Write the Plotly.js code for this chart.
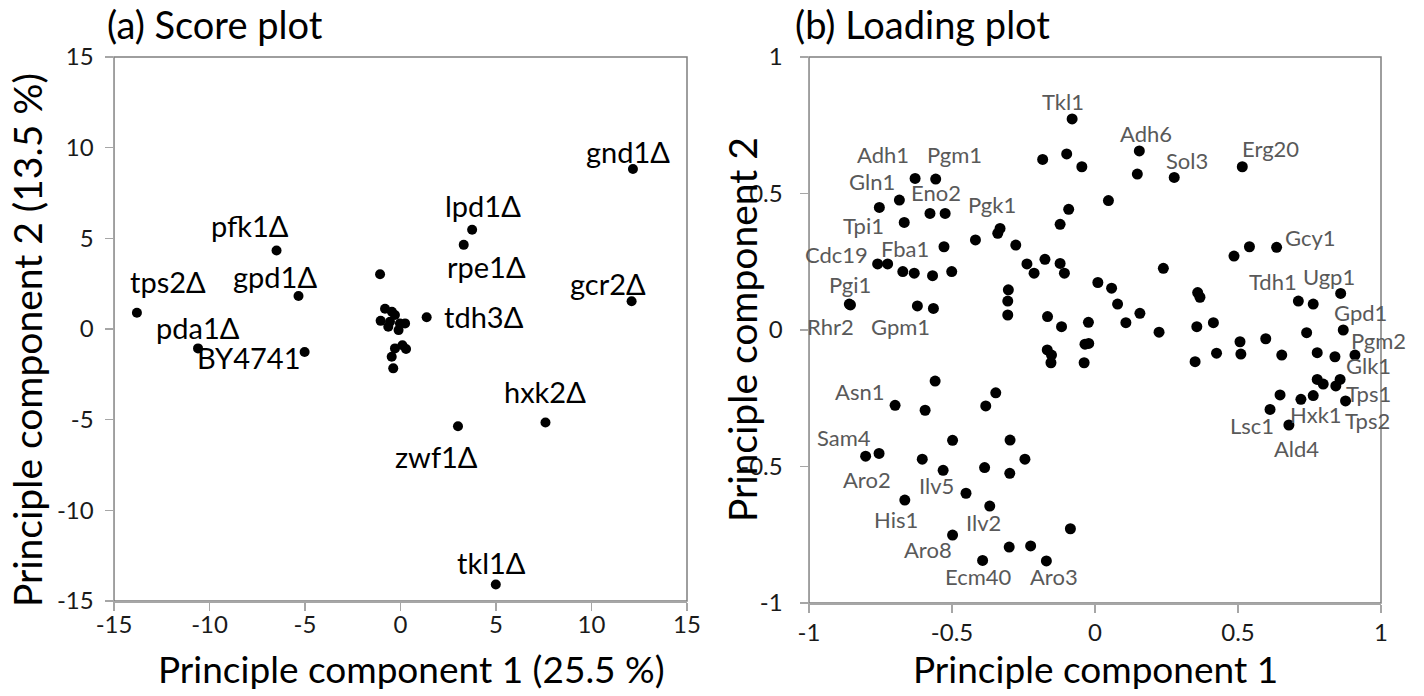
<!DOCTYPE html>
<html>
<head>
<meta charset="utf-8">
<script src="https://cdn.plot.ly/plotly-3.0.1.min.js"></script>
<style>html,body{margin:0;padding:0;background:#fff;}#chart{width:1424px;height:696px;}</style>
</head>
<body>
<div id="chart"></div>
<script>
// ---------- data: (a) score plot ----------
var scoreLabels = ['gnd1Δ','lpd1Δ','rpe1Δ','gcr2Δ','tdh3Δ','hxk2Δ','zwf1Δ','tkl1Δ','pfk1Δ','gpd1Δ','tps2Δ','pda1Δ','BY4741',
  '','','','','','','','','','','','','','',''];
var scorePC1 = [12.17, 3.75, 3.31, 12.10, 1.37, 7.59, 3.01, 4.99, -6.49, -5.34, -13.8, -10.6, -5.02,
  -1.07, -0.81, -0.45, -0.29, -1.04, -0.64, 0.24, -0.55, -0.10, -0.03, 0.29, 0.10, -0.29, -0.46, -0.38];
var scorePC2 = [8.82, 5.47, 4.64, 1.53, 0.65, -5.16, -5.36, -14.09, 4.33, 1.82, 0.90, -1.07, -1.27,
  3.02, 1.12, 0.95, 0.77, 0.45, 0.13, 0.31, 0.40, -0.06, 0.30, -1.10, -0.90, -1.07, -1.53, -2.17];

// ---------- data: (b) loading plot ----------
var loadLabels = ['Tkl1','','','','Adh1','Pgm1','','Gln1','Eno2','','Tpi1','','','','','Pgk1','Fba1','',
  'Cdc19','','','','','','','','','','','','Pgi1','Rhr2','Gpm1','','','','','','','','','','','','','',
  'Adh6','','Sol3','Erg20','','','','Gcy1','','','','','','','','','','',
  'Tdh1','','Ugp1','Gpd1','','','','','','','','','','Pgm2','','','Glk1','Tps1','','Hxk1','','Lsc1','Ald4','Tps2',
  '','Asn1','','','','','','','Sam4','Aro2','','Ilv5','','','','His1','Ilv2','','Aro8','','','Ecm40','Aro3'];
var loadPC1 = [-0.080,-0.183,-0.099,-0.046,-0.629,-0.557,-0.684,-0.754,-0.577,-0.524,-0.667,-0.092,-0.122,-0.418,-0.340,-0.332,-0.528,-0.277,
  -0.760,-0.725,-0.672,-0.632,-0.568,-0.501,-0.238,-0.213,-0.175,-0.122,-0.107,0.010,-0.859,-0.855,-0.621,-0.565,-0.303,-0.305,-0.305,-0.166,-0.117,-0.023,-0.167,-0.152,-0.154,-0.035,-0.022,-0.038,
  0.155,0.148,0.277,0.515,0.047,0.486,0.540,0.635,0.239,0.058,0.079,0.157,0.108,0.359,0.367,0.414,0.356,0.224,
  0.711,0.763,0.859,0.868,0.740,0.597,0.507,0.350,0.425,0.510,0.653,0.777,0.839,0.909,0.777,0.798,0.857,0.842,0.763,0.720,0.647,0.612,0.678,0.876,
  -0.559,-0.699,-0.594,-0.347,-0.382,-0.498,-0.297,-0.245,-0.802,-0.755,-0.604,-0.531,-0.386,-0.298,-0.451,-0.665,-0.368,-0.086,-0.498,-0.300,-0.225,-0.393,-0.170];
var loadPC2 = [0.773,0.625,0.645,0.598,0.555,0.553,0.476,0.449,0.427,0.427,0.394,0.442,0.387,0.330,0.354,0.372,0.305,0.311,
  0.242,0.242,0.214,0.208,0.199,0.214,0.242,0.208,0.259,0.244,0.208,0.174,0.095,0.092,0.088,0.079,0.147,0.106,0.055,0.049,0.012,0.028,-0.073,-0.092,-0.120,-0.052,-0.049,-0.120,
  0.656,0.571,0.559,0.598,0.474,0.271,0.305,0.303,0.226,0.153,0.095,0.061,0.027,0.137,0.120,0.027,0.012,-0.008,
  0.106,0.095,0.134,0.000,-0.010,-0.032,-0.043,-0.116,-0.085,-0.088,-0.092,-0.083,-0.098,-0.092,-0.181,-0.198,-0.181,-0.205,-0.240,-0.254,-0.238,-0.291,-0.348,-0.260,
  -0.187,-0.276,-0.294,-0.230,-0.278,-0.404,-0.403,-0.473,-0.462,-0.452,-0.473,-0.514,-0.504,-0.525,-0.598,-0.623,-0.645,-0.728,-0.751,-0.795,-0.791,-0.844,-0.846];

// ---------- tick labels ----------
var scoreTickVals = [-15,-10,-5,0,5,10,15];
var scoreTickText = ['-15','-10','-5','0','5','10','15'];
var loadTickVals = [-1,-0.5,0,0.5,1];
var loadTickText = ['-1','-0.5','0','0.5','1'];

// ---------- label offsets (pixels: dx right, dy up) ----------
var scoreLabelOffset = {
  'gnd1Δ':[-5,18],'lpd1Δ':[11,24],'rpe1Δ':[23,-22],'gcr2Δ':[-24,18],'tdh3Δ':[57,1],'hxk2Δ':[0,31],
  'zwf1Δ':[-21,-30],'tkl1Δ':[-4,22],'pfk1Δ':[-27,25],'gpd1Δ':[-24,20],'tps2Δ':[31,31],'pda1Δ':[0,21],'BY4741':[-56,-5]
};
var loadLabelOffset = {
  'Tkl1':[-9,17],'Adh1':[-32,24],'Pgm1':[19,25],'Gln1':[-7,26],'Eno2':[6,21],'Pgk1':[-8,24],'Tpi1':[-41,-3],
  'Fba1':[-39,-2],'Cdc19':[-41,9],'Pgi1':[1,20],'Rhr2':[-20,-22],'Gpm1':[-17,-21],'Adh6':[7,17],'Sol3':[13,17],
  'Erg20':[28,18],'Gcy1':[34,10],'Tdh1':[-25,20],'Ugp1':[-12,17],'Gpd1':[17,18],'Pgm2':[24,15],'Glk1':[28,14],
  'Tps1':[33,-8],'Hxk1':[15,-15],'Tps2':[22,-20],'Lsc1':[-18,-16],'Ald4':[8,-23],'Asn1':[-36,14],'Sam4':[-22,19],
  'Aro2':[-12,-26],'Ilv5':[-7,-15],'His1':[-9,-19],'Ilv2':[-6,-16],'Aro8':[-25,-14],'Ecm40':[-4,-16],'Aro3':[8,-16]
};

var FONT = 'Lato, "Open Sans", sans-serif';
var W = 1424, H = 696;
function fx(p){ return p / W; }
function fy(p){ return 1 - p / H; }

var annotations = [];
scoreLabels.forEach(function(t, i){
  if (!t) return;
  var o = scoreLabelOffset[t] || [0, 15];
  annotations.push({xref:'x', yref:'y', x:scorePC1[i], y:scorePC2[i], text:t, showarrow:false,
    xshift:o[0], yshift:o[1], xanchor:'center', yanchor:'middle',
    font:{family:FONT, size:29, color:'#000000'}});
});
loadLabels.forEach(function(t, i){
  if (!t) return;
  var o = loadLabelOffset[t] || [0, 15];
  annotations.push({xref:'x2', yref:'y2', x:loadPC1[i], y:loadPC2[i], text:t, showarrow:false,
    xshift:o[0], yshift:o[1], xanchor:'center', yanchor:'middle',
    font:{family:FONT, size:22, color:'#595959'}});
});

// panel titles and axis titles
var titleFont = {family:FONT, size:37, color:'#000000'};
var panelFont = {family:FONT, size:38, color:'#000000'};
var yTitleFont = {family:FONT, size:39, color:'#000000'};
annotations.push({xref:'paper', yref:'paper', x:fx(105), y:fy(24), xanchor:'left', yanchor:'middle', showarrow:false, text:'(a) Score plot', font:panelFont});
annotations.push({xref:'paper', yref:'paper', x:fx(793), y:fy(24), xanchor:'left', yanchor:'middle', showarrow:false, text:'(b) Loading plot', font:panelFont});
annotations.push({xref:'paper', yref:'paper', x:fx(411), y:fy(668), xanchor:'center', yanchor:'middle', showarrow:false, text:'Principle component 1 (25.5 %)', font:titleFont});
annotations.push({xref:'paper', yref:'paper', x:fx(1095), y:fy(668), xanchor:'center', yanchor:'middle', showarrow:false, text:'Principle component 1', font:titleFont});
annotations.push({xref:'paper', yref:'paper', x:fx(27), y:fy(340), xanchor:'center', yanchor:'middle', showarrow:false, textangle:-90, text:'Principle component 2 (13.5 %)', font:yTitleFont});
annotations.push({xref:'paper', yref:'paper', x:fx(742), y:fy(330), xanchor:'center', yanchor:'middle', showarrow:false, textangle:-90, text:'Principle component 2', font:yTitleFont});

var tickFont = {family:FONT, size:24, color:'#1a1a1a'};
function axis(extra){
  var a = {showgrid:false, zeroline:false, showline:true, linecolor:'#a6a6a6', linewidth:1.5,
    ticks:'outside', ticklen:8, tickwidth:1.5, tickcolor:'#a6a6a6', tickfont:tickFont, fixedrange:true,
    tickmode:'array'};
  for (var k in extra) a[k] = extra[k];
  return a;
}

var traces = [
  {type:'scatter', mode:'markers', x:scorePC1, y:scorePC2, text:scoreLabels, xaxis:'x', yaxis:'y',
   marker:{size:10, color:'#000000'}, cliponaxis:false, hoverinfo:'x+y+text'},
  {type:'scatter', mode:'markers', x:loadPC1, y:loadPC2, text:loadLabels, xaxis:'x2', yaxis:'y2',
   marker:{size:11, color:'#000000'}, cliponaxis:false, hoverinfo:'x+y+text'}
];

var layout = {
  width:W, height:H, showlegend:false,
  margin:{l:0, r:0, t:0, b:0, pad:0},
  paper_bgcolor:'#ffffff', plot_bgcolor:'#ffffff',
  font:{family:FONT},
  xaxis: axis({domain:[fx(114), fx(687)], range:[-15,15], tickvals:scoreTickVals, ticktext:scoreTickText, anchor:'y', ticklabelstandoff:-6}),
  yaxis: axis({domain:[fy(601), fy(57)], range:[-15,15], tickvals:scoreTickVals, ticktext:scoreTickText, anchor:'x', ticklabelstandoff:6}),
  xaxis2: axis({domain:[fx(809), fx(1381)], range:[-1,1], tickvals:loadTickVals, ticktext:loadTickText, anchor:'y2'}),
  yaxis2: axis({domain:[fy(603), fy(57)], range:[-1,1], tickvals:loadTickVals, ticktext:loadTickText, anchor:'x2', ticklabelstandoff:12}),
  shapes:[
    {type:'rect', xref:'x domain', yref:'y domain', x0:0, x1:1, y0:0, y1:1, layer:'below', line:{color:'#7f7f7f', width:1.5}},
    {type:'rect', xref:'x2 domain', yref:'y2 domain', x0:0, x1:1, y0:0, y1:1, layer:'below', line:{color:'#7f7f7f', width:1.5}}
  ],
  annotations:annotations
};

Plotly.newPlot('chart', traces, layout, {displayModeBar:false, staticPlot:true});
</script>
</body>
</html>
